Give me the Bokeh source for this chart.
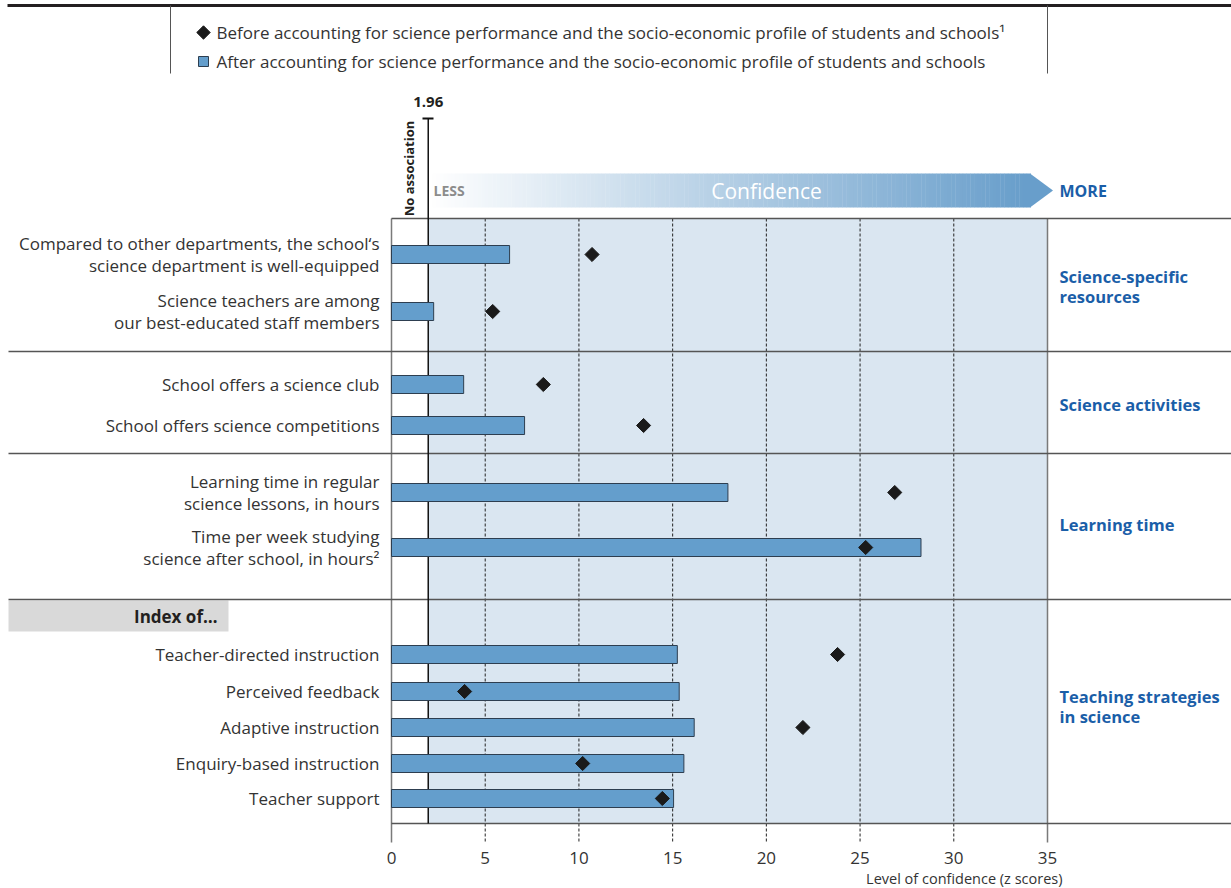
import numpy as np
from bokeh.plotting import figure
from bokeh.models import Range1d, FixedTicker, Title, ColumnDataSource
from bokeh.core.properties import value
from bokeh.embed import file_html
from bokeh.resources import INLINE

# ---------------- data ----------------
categories = [
    "Compared to other departments, the school\u2018s\nscience department is well-equipped",
    "Science teachers are among\nour best-educated staff members",
    "School offers a science club",
    "School offers science competitions",
    "Learning time in regular\nscience lessons, in hours",
    "Time per week studying\nscience after school, in hours\u00b2",
    "Teacher-directed instruction",
    "Perceived feedback",
    "Adaptive instruction",
    "Enquiry-based instruction",
    "Teacher support",
]
after_values = [6.3, 2.25, 3.85, 7.1, 17.95, 28.25, 15.25, 15.35, 16.15, 15.6, 15.05]
before_values = [10.7, 5.4, 8.1, 13.45, 26.85, 25.3, 23.8, 3.9, 21.95, 10.2, 14.45]
group_names = ["Science-specific\nresources", "Science activities", "Learning time",
               "Teaching strategies\nin science"]
x_ticks = [0, 5, 10, 15, 20, 25, 30, 35]
threshold = 1.96
legend_before = "Before accounting for science performance and the socio-economic profile of students and schools\u00b9"
legend_after = "After accounting for science performance and the socio-economic profile of students and schools"
x_title = "Level of confidence (z scores)"

# ---------------- layout (page pixel helpers) ----------------
W, H = 1231, 888
PPU = 656 / 35.0          # pixels per z unit
PX0 = 391                 # pixel of z = 0
def rx(px):               # page x pixel -> data x
    return (px - PX0) / PPU
def ry(py):               # page y pixel -> data y
    return py

row_centers = [254, 311, 384, 425, 492, 547, 654, 691, 727, 763, 798]
bar_half = 9
group_centers = [286, 404, 524, 706]
separators = [351, 453, 599]
plot_top, plot_bottom, tick_end = 218, 823, 842
FRAME_BOTTOM = 843

FONT = value("Open Sans")
TXT = "#333333"
BLUE_TXT = "#1a5ea8"
BAR = "#649ecc"

p = figure(width=W, height=H,
           x_range=Range1d(-PX0 / PPU, (W - PX0) / PPU),
           y_range=Range1d(ry(FRAME_BOTTOM), 0),
           output_backend="svg", toolbar_location=None,
           min_border_left=0, min_border_right=0, min_border_top=0,
           min_border_bottom=H - FRAME_BOTTOM,
           y_axis_location=None, outline_line_color=None)
p.xgrid.visible = False
p.ygrid.visible = False
ax = p.xaxis[0]
ax.ticker = FixedTicker(ticks=x_ticks)
ax.major_tick_line_color = None
ax.minor_tick_line_color = None
ax.axis_line_color = None
ax.major_label_text_font = "Open Sans"
ax.major_label_text_font_size = "17px"
ax.major_label_text_color = TXT
ax.major_label_standoff = 2

# axis title as a right-aligned title below the axis
p.add_layout(Title(text=x_title, align="right", offset=W - 1062, standoff=0,
                   text_font="Open Sans", text_font_size="14.5px", text_font_style="normal",
                   text_color=TXT), "below")

# ---------------- legend box ----------------
p.segment(x0=[rx(7)], y0=[ry(5)], x1=[rx(1231)], y1=[ry(5)], line_color="#231f20", line_width=3)
p.segment(x0=[rx(170), rx(1047)], y0=[ry(5), ry(5)], x1=[rx(170), rx(1047)], y1=[ry(73), ry(73)],
          line_color="#555555", line_width=1)
p.scatter(x=[rx(203)], y=[ry(32)], marker="square", angle=np.pi / 4, size=9.5, color="#1a1a1a")
p.scatter(x=[rx(203)], y=[ry(61)], marker="square", size=10, fill_color=BAR, line_color="#2d3e50")
p.text(x=[rx(216), rx(216)], y=[ry(32), ry(61)], text=[legend_before, legend_after],
       text_font=FONT, text_font_size="17px", text_color=TXT, text_baseline="middle")

# ---------------- confidence arrow ----------------
n = 160
edges = np.linspace(rx(428), rx(1030), n + 1)
c0 = np.array([255, 255, 255]); c1 = np.array([104, 158, 203])
cols = ["#%02x%02x%02x" % tuple((c0 + (c1 - c0) * t).astype(int)) for t in np.linspace(0, 1, n)]
p.quad(left=edges[:-1], right=edges[1:] + 0.02, top=ry(173), bottom=ry(207), fill_color=cols, line_color=None)
p.patch(x=[rx(1029.5), rx(1052.5), rx(1029.5)], y=[ry(173), ry(190), ry(207)], color=cols[-1], line_width=0)
p.text(x=[rx(433)], y=[ry(190)], text=["LESS"], text_font=FONT, text_font_size="14px",
       text_font_style="bold", text_color="#8c8c8c", text_baseline="middle")
p.text(x=[rx(766)], y=[ry(190)], text=["Confidence"], text_font=FONT, text_font_size="21px",
       text_color="white", text_align="center", text_baseline="middle")
p.text(x=[rx(1059)], y=[ry(190)], text=["MORE"], text_font=FONT, text_font_size="16px",
       text_font_style="bold", text_color=BLUE_TXT, text_baseline="middle")

# ---------------- plot area ----------------
p.quad(left=threshold, right=35, top=ry(plot_top), bottom=ry(plot_bottom), fill_color="#dae6f1", line_color=None)
# index box
p.quad(left=rx(8), right=rx(228), top=ry(600), bottom=ry(631), fill_color="#d9d9d9", line_color=None)
p.text(x=[rx(217)], y=[ry(616)], text=["Index of\u2026"], text_font=FONT, text_font_size="17px",
       text_font_style="bold", text_color="#231f20", text_align="right", text_baseline="middle")
# dashed grid lines
grid = [t for t in x_ticks if 0 < t < 35]
p.segment(x0=grid, x1=grid, y0=ry(plot_top), y1=ry(tick_end), line_color="#222222",
          line_width=1, line_dash="3 2")
# 0 and 35 lines
p.segment(x0=[0, 35], x1=[0, 35], y0=ry(plot_top), y1=ry(tick_end), line_color="#7a7a7a", line_width=1.5)
# horizontal frame lines
p.segment(x0=[0, 0], x1=[rx(1231), rx(1231)], y0=[ry(plot_top), ry(plot_bottom)],
          y1=[ry(plot_top), ry(plot_bottom)], line_color="#555555", line_width=1.5)
p.segment(x0=rx(8), x1=rx(1231), y0=[ry(s) for s in separators], y1=[ry(s) for s in separators],
          line_color="#555555", line_width=1.5)
# 1.96 line
p.segment(x0=[threshold], x1=[threshold], y0=[ry(118)], y1=[ry(plot_bottom)], line_color="#111111", line_width=1.5)
p.segment(x0=[rx(422)], x1=[rx(433)], y0=[ry(118)], y1=[ry(118)], line_color="#111111", line_width=2)
p.text(x=[threshold], y=[ry(101)], text=["1.96"], text_font=FONT, text_font_size="15px",
       text_font_style="bold", text_color="#231f20", text_align="center", text_baseline="middle")
p.text(x=[rx(408)], y=[ry(168)], text=["No association"], text_font=FONT, text_font_size="13px",
       text_font_style="bold", text_color="#231f20", text_align="center", text_baseline="middle",
       angle=np.pi / 2)

# ---------------- bars & markers ----------------
src = ColumnDataSource(dict(
    cat=categories, after=after_values, before=before_values,
    y=[ry(v) for v in row_centers],
    top=[ry(v) - bar_half for v in row_centers],
    bottom=[ry(v) + bar_half for v in row_centers],
))
p.quad(left=0, right="after", top="top", bottom="bottom", source=src,
       fill_color=BAR, line_color="#2d3e50", line_width=1)
p.scatter(x="before", y="y", source=src, marker="square", angle=np.pi / 4, size=10, color="#1a1a1a")
p.text(x=rx(379), y="y", text="cat", source=src, text_font=FONT, text_font_size="17px",
       text_color=TXT, text_align="right", text_baseline="middle", text_line_height=0.92)

# group labels
p.text(x=rx(1059), y=[ry(v) for v in group_centers], text=group_names, text_font=FONT,
       text_font_size="16.5px", text_font_style="bold", text_color=BLUE_TXT,
       text_baseline="middle", text_line_height=0.88)

open("out.html", "w").write(file_html(p, INLINE))
